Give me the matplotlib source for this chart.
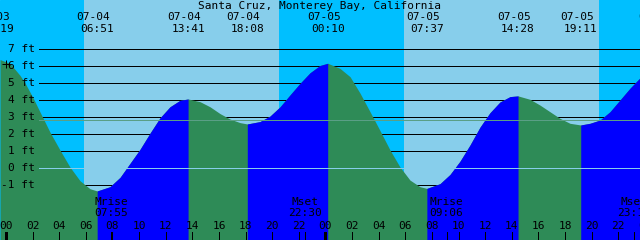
import matplotlib
matplotlib.use("Agg")
import matplotlib.pyplot as plt
import matplotlib.transforms as mtransforms
import numpy as np

# ---------------- data ----------------
title = "Santa Cruz, Monterey Bay, California"

# tide curve samples: hours since 07-04 00:00 and height in feet
tide_hours = [-0.45, 0.30, 1.05, 1.43, 2.05, 2.55, 3.31, 4.06, 4.81, 5.56, 6.31, 6.85,
              7.81, 8.57, 9.07, 10.07, 10.82, 11.57, 12.32, 13.07, 13.68,
              14.58, 15.33, 16.08, 16.83, 17.58, 18.13,
              19.08, 19.83, 20.59, 21.34, 22.09, 22.84, 23.59, 24.17,
              25.09, 25.85, 26.60, 27.35, 28.10, 28.85, 29.60, 30.35, 31.10, 31.62,
              32.61, 33.36, 34.11, 34.86, 35.61, 36.36, 37.11, 37.87, 38.47,
              39.37, 40.12, 40.87, 41.62, 42.37, 43.18,
              43.88, 44.63, 45.38, 46.13, 46.88, 47.63]
tide_ft = [6.38, 6.15, 5.45, 5.00, 4.10, 3.30, 2.10, 1.05, 0.05, -0.75, -1.22, -1.35,
           -1.10, -0.55, 0.00, 1.10, 2.05, 2.95, 3.60, 3.98, 4.06,
           3.90, 3.60, 3.20, 2.88, 2.67, 2.59,
           2.73, 3.05, 3.60, 4.30, 4.98, 5.60, 6.03, 6.16,
           5.86, 5.37, 4.40, 3.31, 2.20, 1.06, 0.06, -0.71, -1.10, -1.20,
           -0.92, -0.38, 0.40, 1.35, 2.40, 3.25, 3.88, 4.20, 4.24,
           4.04, 3.70, 3.31, 2.92, 2.63, 2.53,
           2.63, 2.82, 3.31, 4.00, 4.69, 5.30]

# high / low tide events (day offset relative to 07-04)
event_day = [-1, 0, 0, 0, 1, 1, 1, 1, 2]
event_dates = ["07-03", "07-04", "07-04", "07-04", "07-05", "07-05", "07-05", "07-05", "07-06"]
event_times = ["23:19", "06:51", "13:41", "18:08", "00:10", "07:37", "14:28", "19:11", "01:04"]

# sunrise / sunset
sun_day = [0, 0, 1, 1]
sun_kind = ["rise", "set", "rise", "set"]
sun_times = ["05:52", "20:31", "05:54", "20:33"]

# moon events
moon_day = [0, 0, 1, 1]
moon_labels = ["Mrise", "Mset", "Mrise", "Mset"]
moon_times = ["07:55", "22:30", "09:06", "23:12"]

ytick_ft = [-1, 0, 1, 2, 3, 4, 5, 6, 7]
ytick_labels = ["-1 ft", "0 ft", "1 ft", "2 ft", "3 ft", "4 ft", "5 ft", "6 ft", "7 ft"]
hour_ticks = list(range(0, 49, 2))
hour_labels = ["%02d" % (h % 24) for h in hour_ticks]
mean_level_ft = 2.8
datum_ft = 0
now_hour, now_ft = 0.0, 6.12

# ---------------- style ----------------
NIGHT = "#00BFFF"
DAY = "#87CEEB"
RISE = "#0000FF"
FALL = "#2E8B57"
MEANC = "#5a9f86"
FONT = dict(family="DejaVu Sans Mono", fontsize=8, color="black")
W, H = 640, 240
PXH = 13.31       # pixels per hour
X0 = 6            # pixel of hour 0
PXF = 17.0        # pixels per foot
Y0 = 168          # pixel row of 0 ft
LW1 = 0.72        # one pixel


def to_hours(day, hhmm):
    hh, mm = hhmm.split(":")
    return day * 24 + int(hh) + int(mm) / 60.0


fig = plt.figure(figsize=(W / 100, H / 100), dpi=100)
ax = fig.add_axes([0, 0, 1, 1])
ax.set_axis_off()
xmin, xmax = -X0 / PXH, (W - X0) / PXH
ymin, ymax = -(H - Y0) / PXF, Y0 / PXF
ax.set_xlim(xmin, xmax)
ax.set_ylim(ymin, ymax)
ax.add_patch(plt.Rectangle((0, 0), 1, 1, transform=ax.transAxes, color=NIGHT, zorder=0))

# daylight bands
sun_h = [to_hours(d, s) for d, s in zip(sun_day, sun_times)]
for i in range(0, len(sun_h), 2):
    ax.axvspan(sun_h[i], sun_h[i + 1], color=DAY, lw=0, zorder=0.5)

# grid lines (behind the water)
for v in ytick_ft:
    ax.axhline(v, xmin=39 / W, xmax=1, color="black", lw=LW1, zorder=1,
               antialiased=False, snap=True)

# water fill: falling = green, rising = blue
t = np.array(tide_hours)
h = np.array(tide_ft)
ax.fill_between(t, h, ymin, color=FALL, lw=0, zorder=2)
rising = np.diff(h) > 0
start = 0
n = len(rising)
for i in range(1, n + 1):
    if i == n or rising[i] != rising[start]:
        if rising[start]:
            seg = slice(start, i + 1)
            ax.fill_between(t[seg], h[seg], ymin, color=RISE, lw=0, zorder=2.1)
        start = i

# datum and mean level lines
ax.axhline(datum_ft, xmin=39 / W, xmax=1, color=DAY, lw=LW1, zorder=3, antialiased=False, snap=True)
ax.axhline(mean_level_ft, xmin=39 / W, xmax=1, color=MEANC, lw=LW1, zorder=3, antialiased=False, snap=True)

# "now" marker
ax.plot([now_hour], [now_ft], marker="+", ms=6, mew=LW1, color="black", zorder=4)

# y labels
tr_yl = mtransforms.blended_transform_factory(ax.transAxes, ax.transData)
for v, lab in zip(ytick_ft, ytick_labels):
    ax.text(35 / W, v, lab, transform=tr_yl, ha="right", va="center", zorder=5, **FONT)

tr_top = mtransforms.blended_transform_factory(ax.transData, fig.transFigure)
tr_ax = mtransforms.blended_transform_factory(ax.transData, ax.transAxes)


def yfig(py):
    return 1 - py / H


# title
fig.text(0.5, yfig(6), title, ha="center", va="center", zorder=5, **FONT)

# tide events
dx = -4 / PXH
for d, ds, ts in zip(event_day, event_dates, event_times):
    eh = to_hours(d, ts)
    ax.text(eh + dx, yfig(17.5), ds, transform=tr_top, ha="center", va="center", zorder=5, **FONT)
    ax.text(eh, yfig(29), ts, transform=tr_top, ha="center", va="center", zorder=5, **FONT)

# moon events
for d, lab, ts in zip(moon_day, moon_labels, moon_times):
    mh = to_hours(d, ts)
    ax.text(mh, yfig(202), lab, transform=tr_top, ha="center", va="center", zorder=5, **FONT)
    ax.text(mh, yfig(213), ts, transform=tr_top, ha="center", va="center", zorder=5, **FONT)
    ax.vlines(mh, 0, 8 / H, transform=tr_ax, color="black", lw=LW1, zorder=5,
              antialiased=False, snap=True)

# hour axis
for hh, lab in zip(hour_ticks, hour_labels):
    ax.text(hh, yfig(226), lab, transform=tr_top, ha="center", va="center", zorder=5, **FONT)
    lw = 2.16 if hh % 24 == 0 else LW1
    ax.vlines(hh, 0, 8 / H, transform=tr_ax, color="black", lw=lw, zorder=5,
              antialiased=False, snap=True)

fig.savefig("out.png", dpi=100)
